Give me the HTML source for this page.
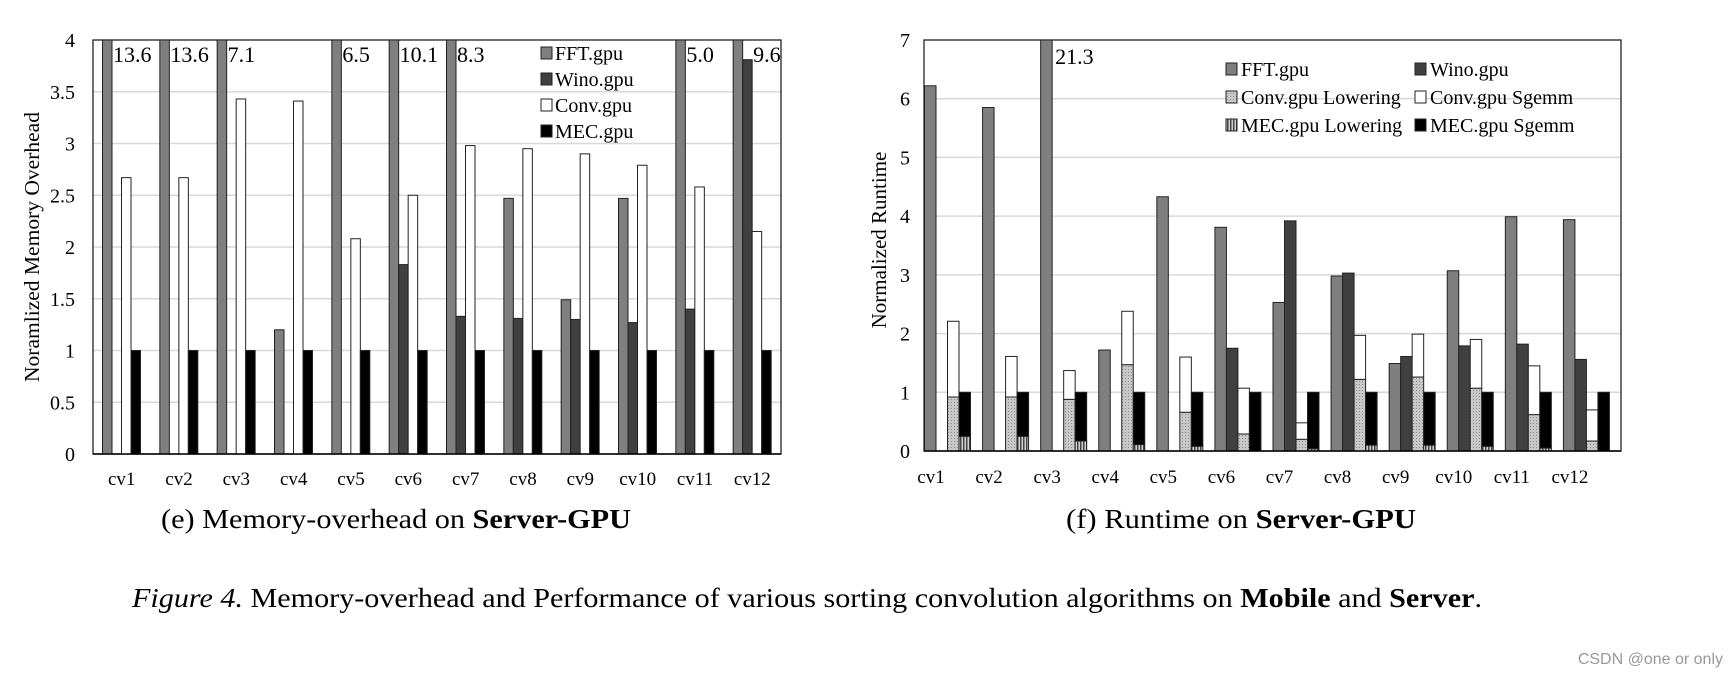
<!DOCTYPE html>
<html><head><meta charset="utf-8">
<style>
html,body{margin:0;padding:0;background:#fff;}
svg{display:block;font-family:"Liberation Serif",serif;}
</style></head>
<body>
<svg id="fig" width="1736" height="676" viewBox="0 0 1736 676" xmlns="http://www.w3.org/2000/svg">
<defs>
<pattern id="dots" width="3" height="3" patternUnits="userSpaceOnUse"><rect width="3" height="3" fill="#c8c8c8"/><rect width="1" height="1" fill="#8a8a8a"/></pattern>
<pattern id="vstripe" width="3" height="3" patternUnits="userSpaceOnUse"><rect width="3" height="3" fill="#d0d0d0"/><rect width="1.5" height="3" fill="#444"/></pattern>
</defs>
<g id="left"></g>
<g id="right"></g>
<text x="161" y="528" font-size="27" textLength="470" lengthAdjust="spacingAndGlyphs">(e)  Memory-overhead on <tspan font-weight="bold">Server-GPU</tspan></text>
<text x="1066" y="528" font-size="27" textLength="350" lengthAdjust="spacingAndGlyphs">(f)  Runtime on <tspan font-weight="bold">Server-GPU</tspan></text>
<text x="132" y="607" font-size="27" textLength="1350" lengthAdjust="spacingAndGlyphs"><tspan font-style="italic">Figure 4.</tspan> Memory-overhead and Performance of various sorting convolution algorithms on <tspan font-weight="bold">Mobile</tspan> and <tspan font-weight="bold">Server</tspan>.</text>
<text x="1723" y="664" font-size="16" text-anchor="end" fill="#999" font-family="Liberation Sans, sans-serif">CSDN @one or only</text>
</svg>
<script>
const cats = ['cv1','cv2','cv3','cv4','cv5','cv6','cv7','cv8','cv9','cv10','cv11','cv12'];
// Left chart: memory overhead
const memFFT  = [13.6,13.6,7.1,1.2,6.5,10.1,8.3,2.47,1.49,2.47,5.0,9.6];
const memWino = [0,0,0,0,0,1.83,1.33,1.31,1.30,1.27,1.40,3.81];
const memConv = [2.67,2.67,3.43,3.41,2.08,2.50,2.98,2.95,2.90,2.79,2.58,2.15];
const memMEC  = [1,1,1,1,1,1,1,1,1,1,1,1];
const memTicks = ['0','0.5','1','1.5','2','2.5','3','3.5','4'];
// Right chart: runtime
const rtFFT = [6.22,5.85,21.3,1.72,4.33,3.81,2.53,2.98,1.49,3.07,3.99,3.94];
const rtWino = [0,0,0,0,0,1.75,3.92,3.03,1.61,1.79,1.82,1.56];
const rtConvLow = [0.92,0.92,0.88,1.47,0.66,0.29,0.2,1.22,1.26,1.07,0.62,0.17];
const rtConvSgemm = [1.29,0.69,0.49,0.91,0.94,0.78,0.28,0.75,0.73,0.83,0.83,0.53];
const rtMECLow = [0.25,0.25,0.17,0.11,0.08,0,0.04,0.1,0.1,0.08,0.05,0];
const rtMECSgemm = [0.75,0.75,0.83,0.89,0.92,1,0.96,0.9,0.9,0.92,0.95,1];
const rtTicks = ['0','1','2','3','4','5','6','7'];

const NS='http://www.w3.org/2000/svg';
function mk(parent,tag,attrs,text){const e=document.createElementNS(NS,tag);for(const k in attrs)e.setAttribute(k,attrs[k]);if(text!==undefined)e.textContent=text;parent.appendChild(e);return e;}

// ---------- LEFT ----------
(function(){
  const g=document.getElementById('left');
  const x0=93,x1=781,yTop=40,yBot=454,ymax=4;
  const gw=(x1-x0)/cats.length, bw=9.5, off=9.5;
  const y=v=>yBot-(Math.min(v,ymax)/ymax)*(yBot-yTop);
  memTicks.forEach(t=>{
    const v=parseFloat(t);
    if(v>0&&v<ymax){const l=mk(g,'line',{x1:x0,x2:x1,y1:y(v),y2:y(v),stroke:'#d9d9d9','stroke-width':1.5});
      
      }
    const tx=mk(g,'text',{x:75,y:y(v)+7,'font-size':20,'text-anchor':'end'},t);
    
    
  });
  const fr=mk(g,'rect',{x:x0,y:yTop,width:x1-x0,height:yBot-yTop,fill:'none',stroke:'#222','stroke-width':1.3});
  
  
  const series=[[memFFT,'#7f7f7f','fft'],[memWino,'#404040','wino'],[memConv,'#fff','conv'],[memMEC,'#000','mec']];
  cats.forEach((c,i)=>{
    const gx=x0+i*gw+off;
    series.forEach((s,j)=>{
      const v=s[0][i]; if(!v) return;
      const r=mk(g,'rect',{x:gx+j*bw,y:y(v),width:bw,height:yBot-y(v),fill:s[1],stroke:'#222','stroke-width':1});
      
      
    });
    let lab=null,lx=0;
    if(memWino[i]>ymax){lab=memWino[i];lx=gx+2*bw;}
    else if(memFFT[i]>ymax){lab=memFFT[i];lx=gx+bw;}
    if(i===11){lab=memFFT[i];lx=gx+2*bw;}
    if(lab!==null){const t=mk(g,'text',{x:lx+1,y:62,'font-size':22},lab.toFixed(1));
      
      }
    const cl=mk(g,'text',{x:x0+i*gw+gw/2,y:485,'font-size':19,'text-anchor':'middle'},c);
    
    
  });
  mk(g,'line',{x1:x0,x2:x1,y1:yBot,y2:yBot,stroke:'#000','stroke-width':1.5});
  const yl=mk(g,'text',{transform:'translate(39,247) rotate(-90)','font-size':21,'text-anchor':'middle',textLength:270,lengthAdjust:'spacingAndGlyphs'},'Noramlized Memory Overhead');
  
  
  const leg=[['#7f7f7f','FFT.gpu'],['#404040','Wino.gpu'],['#fff','Conv.gpu'],['#000','MEC.gpu']];
  leg.forEach((l,k)=>{
    const yy=53+k*26;
    const e=mk(g,'g',{});
    
    
    mk(e,'rect',{x:541,y:yy-6,width:11,height:12,fill:l[0],stroke:'#222','stroke-width':1});
    mk(e,'text',{x:555,y:yy+7,'font-size':20},l[1]);
  });
})();

// ---------- RIGHT ----------
(function(){
  const g=document.getElementById('right');
  const x0=924,x1=1621,yTop=40,yBot=451,ymax=7;
  const gw=(x1-x0)/cats.length, bw=11.5;
  const y=v=>yBot-(Math.min(v,ymax)/ymax)*(yBot-yTop);
  rtTicks.forEach(t=>{
    const v=parseFloat(t);
    if(v>0&&v<ymax){const l=mk(g,'line',{x1:x0,x2:x1,y1:y(v),y2:y(v),stroke:'#d9d9d9','stroke-width':1.5});
      
      }
    const tx=mk(g,'text',{x:910,y:y(v)+7,'font-size':20,'text-anchor':'end'},t);
    
    
  });
  const fr=mk(g,'rect',{x:x0,y:yTop,width:x1-x0,height:yBot-yTop,fill:'none',stroke:'#222','stroke-width':1.3});
  
  
  function bar(x,v0,v1,fill,name){
    if(v1<=v0) return;
    const r=mk(g,'rect',{x:x,y:y(v1),width:bw,height:y(v0)-y(v1),fill:fill,stroke:'#222','stroke-width':1});
    
    
  }
  cats.forEach((c,i)=>{
    const gx=x0+i*gw+0.5;
    bar(gx,0,rtFFT[i],'#7f7f7f','bar-fft-'+c);
    bar(gx+bw,0,rtWino[i],'#404040','bar-wino-'+c);
    bar(gx+2*bw,0,rtConvLow[i],'url(#dots)','bar-conv-lowering-'+c);
    bar(gx+2*bw,rtConvLow[i],rtConvLow[i]+rtConvSgemm[i],'#fff','bar-conv-sgemm-'+c);
    bar(gx+3*bw,0,rtMECLow[i],'url(#vstripe)','bar-mec-lowering-'+c);
    bar(gx+3*bw,rtMECLow[i],rtMECLow[i]+rtMECSgemm[i],'#000','bar-mec-sgemm-'+c);
    if(rtFFT[i]>ymax){const t=mk(g,'text',{x:gx+bw+3,y:64,'font-size':22},rtFFT[i].toFixed(1));
      
      }
    const cl=mk(g,'text',{x:x0+i*gw+7,y:483,'font-size':19,'text-anchor':'middle'},c);
    
    
  });
  mk(g,'line',{x1:x0,x2:x1,y1:yBot,y2:yBot,stroke:'#000','stroke-width':1.5});
  const yl=mk(g,'text',{transform:'translate(886,240) rotate(-90)','font-size':21,'text-anchor':'middle'},'Normalized Runtime');
  
  
  const leg=[['#7f7f7f','FFT.gpu',1226,69],['#404040','Wino.gpu',1415,69],['url(#dots)','Conv.gpu Lowering',1226,97],['#fff','Conv.gpu Sgemm',1415,97],['url(#vstripe)','MEC.gpu Lowering',1226,125],['#000','MEC.gpu Sgemm',1415,125]];
  leg.forEach(l=>{
    const e=mk(g,'g',{});
    
    
    mk(e,'rect',{x:l[2],y:l[3]-6,width:11,height:12,fill:l[0],stroke:'#222','stroke-width':1});
    mk(e,'text',{x:l[2]+15,y:l[3]+7,'font-size':20},l[1]);
  });
})();
</script>
</body></html>
